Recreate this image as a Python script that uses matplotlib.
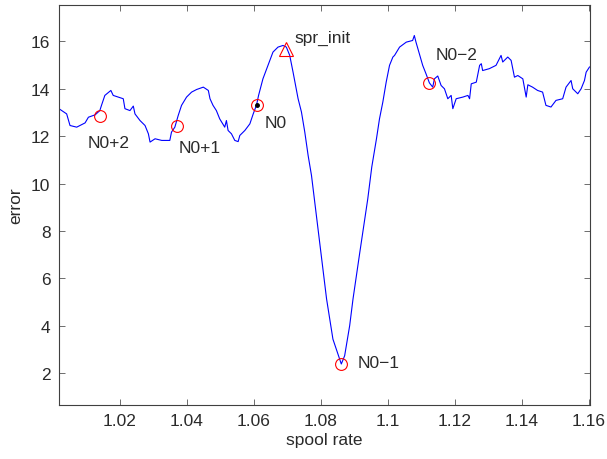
import matplotlib
matplotlib.use('Agg')
import matplotlib.pyplot as plt

plt.rcParams['font.family'] = ['Liberation Sans', 'DejaVu Sans']

# error curve
spool_rate = [
    1.0018, 1.0041, 1.0051, 1.0071, 1.0096, 1.0106, 1.0126, 1.0140, 1.0145,
    1.0155, 1.0173, 1.0180, 1.0195, 1.0210, 1.0215, 1.0230, 1.0240, 1.0245,
    1.0260, 1.0275, 1.0285, 1.0290, 1.0305, 1.0325, 1.0349, 1.0354, 1.0364,
    1.0374, 1.0384, 1.0399, 1.0414, 1.0429, 1.0449, 1.0464, 1.0469, 1.0478,
    1.0488, 1.0498, 1.0513, 1.0518, 1.0523, 1.0533, 1.0543, 1.0553, 1.0558,
    1.0573, 1.0588, 1.0598, 1.0608, 1.0614, 1.0627, 1.0642, 1.0657, 1.0672,
    1.0687, 1.0697, 1.0707, 1.0717, 1.0732, 1.0742, 1.0752, 1.0762, 1.0772,
    1.0785, 1.0800, 1.0817, 1.0836, 1.0856, 1.0861, 1.0871, 1.0886, 1.0896,
    1.0916, 1.0940, 1.0952, 1.0966, 1.0975, 1.0985, 1.0995, 1.1005, 1.1015,
    1.1020, 1.1035, 1.1055, 1.1074, 1.1079, 1.1084, 1.1094, 1.1104, 1.1114,
    1.1124, 1.1134, 1.1139, 1.1149, 1.1159, 1.1169, 1.1179, 1.1189, 1.1194,
    1.1204, 1.1224, 1.1239, 1.1244, 1.1249, 1.1264, 1.1274, 1.1279, 1.1283,
    1.1303, 1.1323, 1.1338, 1.1343, 1.1358, 1.1368, 1.1378, 1.1388, 1.1403,
    1.1413, 1.1418, 1.1432, 1.1447, 1.1462, 1.1472, 1.1487, 1.1502, 1.1522,
    1.1532, 1.1547, 1.1552, 1.1567, 1.1577, 1.1587, 1.1592, 1.1602,
]
error = [
    13.16, 12.94, 12.45, 12.38, 12.56, 12.80, 12.90, 13.08, 13.30,
    13.72, 13.93, 13.72, 13.65, 13.58, 13.16, 13.08, 13.27, 12.94,
    12.66, 12.45, 12.10, 11.75, 11.89, 11.82, 11.82, 12.17, 12.38,
    12.87, 13.30, 13.65, 13.86, 13.97, 14.07, 13.93, 13.58, 13.30,
    13.08, 12.73, 12.38, 12.66, 12.24, 12.10, 11.82, 11.77, 12.03,
    12.24, 12.52, 12.94, 13.32, 13.72, 14.42, 14.99, 15.55, 15.76,
    15.83, 15.76, 15.41, 14.70, 13.58, 13.02, 12.17, 11.18, 10.34,
    8.84, 7.11, 5.13, 3.43, 2.58, 2.38, 2.73, 4.00, 5.13,
    7.07, 9.35, 10.70, 11.89, 12.73, 13.44, 14.28, 14.99, 15.34,
    15.41, 15.76, 15.97, 16.04, 16.25, 15.97, 15.48, 14.99, 14.63,
    14.25, 14.07, 14.42, 14.54, 14.14, 14.00, 13.58, 13.72, 13.16,
    13.58, 13.65, 13.72, 13.58, 14.21, 14.28, 14.99, 15.06, 14.77,
    14.85, 14.99, 15.41, 15.13, 15.34, 15.20, 14.49, 14.56, 14.42,
    13.65, 14.17, 14.07, 13.93, 13.86, 13.30, 13.23, 13.51, 13.58,
    14.07, 14.35, 14.00, 13.79, 14.00, 14.35, 14.70, 14.92,
]

# marked points
mark_names = ['N0+2', 'N0+1', 'N0', 'N0\u22121', 'N0\u22122']
mark_x = [1.0140, 1.0369, 1.0608, 1.0861, 1.1124]
mark_y = [12.85, 12.41, 13.32, 2.38, 14.25]
label_x = [1.0103, 1.0374, 1.0632, 1.0910, 1.1144]
label_y = [11.54, 11.33, 12.38, 2.24, 15.27]

init_x = 1.0697
init_y = 15.69

fig = plt.figure(figsize=(6.07, 4.60), dpi=100)
ax = fig.add_axes([0.0969, 0.1174, 0.8759, 0.8702])

ax.plot(spool_rate, error, color='blue', lw=0.8)
ax.plot(mark_x, mark_y, 'o', ms=8.5, mfc='none', mec='red', mew=0.8)
ax.plot([mark_x[2]], [mark_y[2]], 'o', ms=2.5, color='black')
ax.plot([init_x], [init_y], '^', ms=9.5, mfc='none', mec='red', mew=0.8)

txt = '#2a2a2a'
for name, tx, ty in zip(mark_names, label_x, label_y):
    ax.text(tx, ty, name, fontsize=12.5, color=txt, va='baseline')
ax.text(1.0722, 15.97, 'spr_init', fontsize=12.5, color=txt, va='baseline')

ax.set_xlim(1.00176, 1.1605)
ax.set_ylim(0.65, 17.55)
ax.set_xticks([1.02, 1.04, 1.06, 1.08, 1.1, 1.12, 1.14, 1.16])
ax.set_xticklabels(['1.02', '1.04', '1.06', '1.08', '1.1', '1.12', '1.14', '1.16'])
ax.set_yticks([2, 4, 6, 8, 10, 12, 14, 16])
ax.tick_params(direction='in', top=True, right=True, length=4, width=0.6,
               labelsize=12.5, labelcolor=txt, color='#555555', pad=6)
for s in ax.spines.values():
    s.set_color('#404040')
    s.set_linewidth(0.8)

ax.set_xlabel('spool rate', fontsize=12.5, color=txt, labelpad=3)
ax.set_ylabel('error', fontsize=12.5, color=txt, labelpad=6)

fig.savefig('out.png', dpi=100)
